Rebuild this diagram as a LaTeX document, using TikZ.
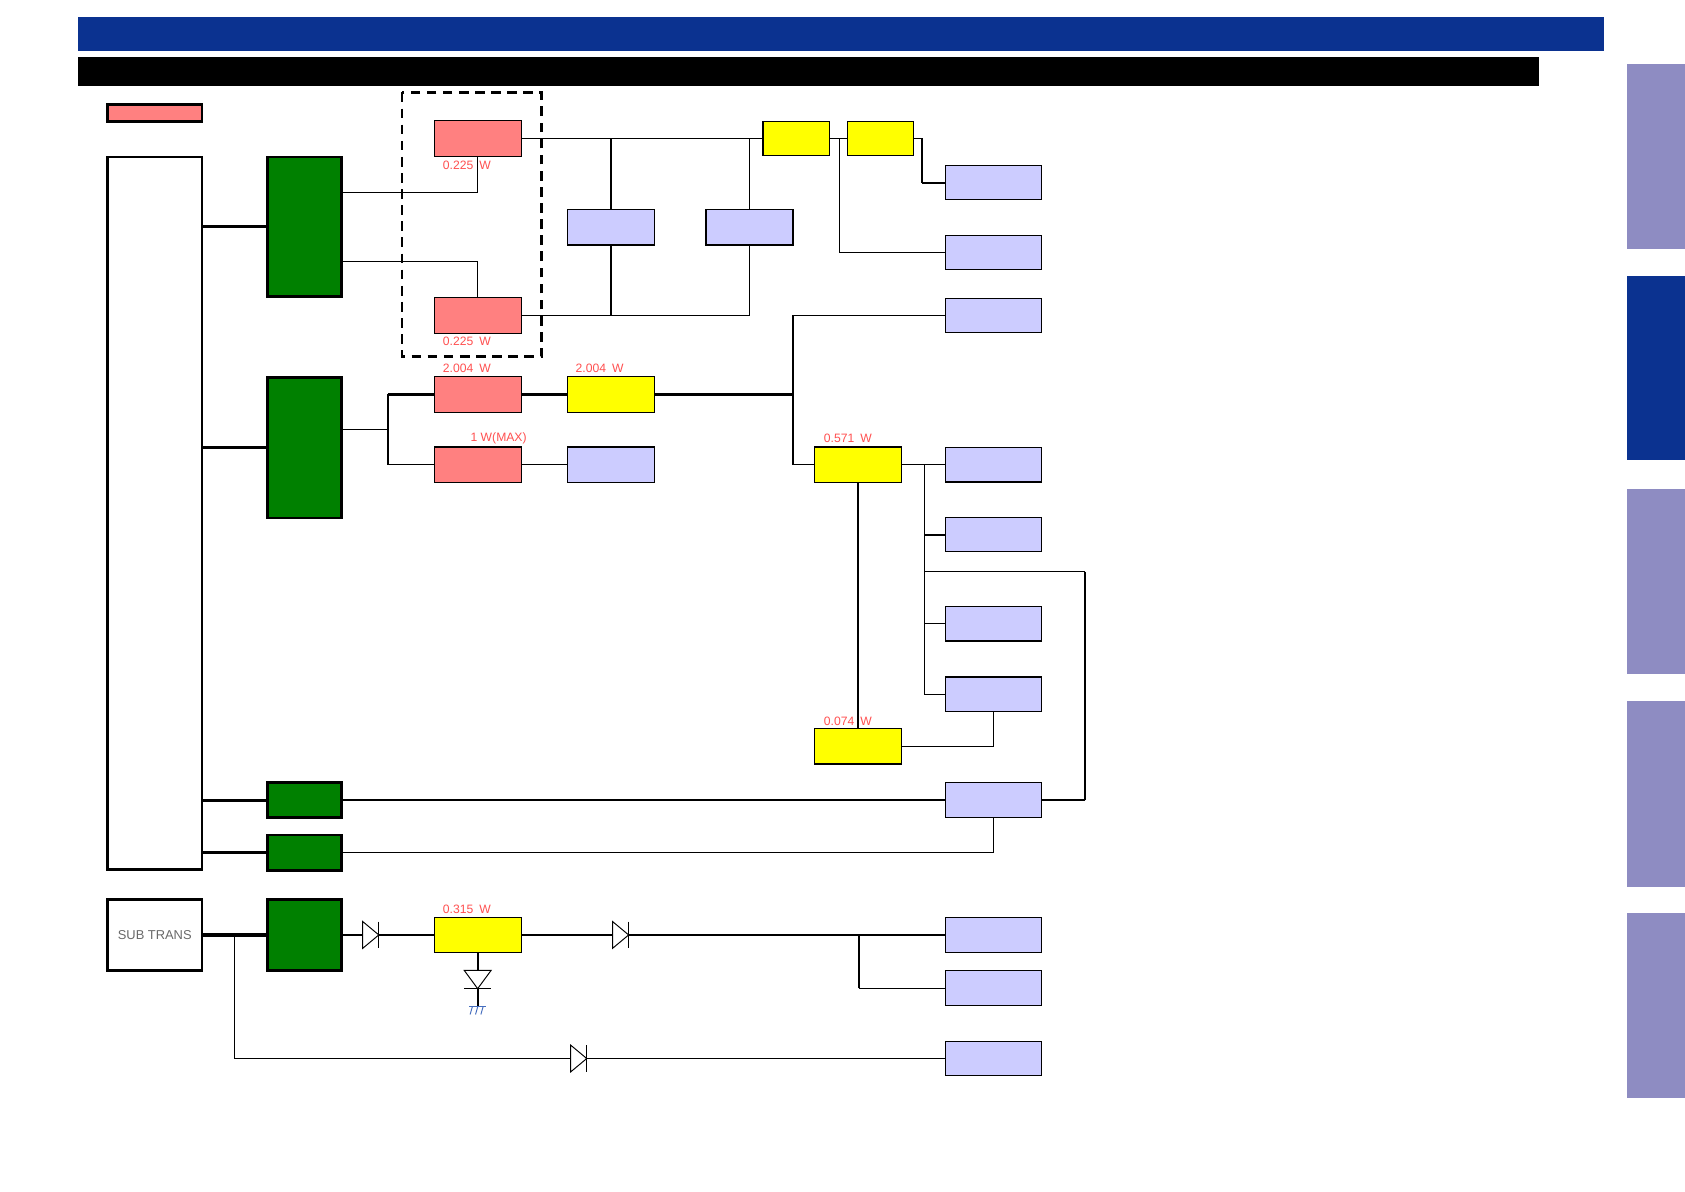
\documentclass[tikz,border=0pt]{standalone}
\usepackage{fontspec}
\setmainfont{Liberation Sans}
\definecolor{hdrblue}{RGB}{11,50,144}
\definecolor{tabl}{RGB}{142,140,194}
\definecolor{pinkf}{RGB}{255,128,128}
\definecolor{lavf}{RGB}{204,204,255}
\definecolor{grnf}{RGB}{0,128,0}
\definecolor{yelf}{RGB}{255,255,0}
\definecolor{lblred}{RGB}{255,80,80}
\definecolor{gndblue}{RGB}{70,110,190}
\definecolor{txtgray}{RGB}{105,105,105}
\newcommand{\wsp}{\hspace{0.5em}}
\tikzset{
  box/.style={draw=black, line width=1.1pt, inner sep=0pt, minimum width=81pt, minimum height=33pt},
  pk/.style={box, fill=pinkf},
  yl/.style={box, fill=yelf},
  lv/.style={box, fill=lavf},
  lvr/.style={lv, minimum width=89pt, minimum height=32pt},
  gr/.style={draw=black, line width=2.5pt, fill=grnf, inner sep=0pt, minimum width=69pt},
  wire/.style={line width=1.1pt},
  bus/.style={line width=2.8pt},
  lbl/.style={text=lblred, font=\fontsize{11.3}{13}\selectfont, inner sep=0pt},
  diodeR/.pic={
    \draw[line width=0.9pt, fill=white] (-7.5,-12.5) -- (7.5,0) -- (-7.5,12.5) -- cycle;
    \draw[line width=0.9pt] (7.5,-12.5) -- (7.5,12.5);
  },
  diodeD/.pic={
    \draw[line width=0.9pt, fill=white] (-12.5,-8.5) -- (12.5,-8.5) -- (0,8.5) -- cycle;
    \draw[line width=0.9pt] (-12.5,8.5) -- (12.5,8.5);
  },
  gndsym/.pic={
    \draw[gndblue, line width=0.9pt] (-8,0) -- (8,0);
    \draw[gndblue, line width=0.9pt] (-5,0) -- (-7,7) (0,0) -- (-2,7) (5,0) -- (3,7);
  }
}
\begin{document}
\begin{tikzpicture}[x=1pt, y=-1pt]
\useasboundingbox (0,0) rectangle (1568,1109);
\fill[white] (0,0) rectangle (1568,1109);

% header bars
\fill[hdrblue] (73,16) rectangle (1493,47);
\fill[black] (73,53) rectangle (1432,80);

% side tabs
\fill[tabl] (1514,60) rectangle (1568,232);
\fill[hdrblue] (1514,257) rectangle (1568,428);
\fill[tabl] (1514,455) rectangle (1568,627);
\fill[tabl] (1514,652) rectangle (1568,825);
\fill[tabl] (1514,850) rectangle (1568,1022);

% legend
\node[draw=black, line width=2.5pt, fill=pinkf, inner sep=0pt, minimum width=88pt, minimum height=16pt] (leg) at (144,105) {};

% main transformer box and sub trans
\node[draw=black, line width=2.2pt, fill=white, inner sep=0pt, minimum width=88pt, minimum height=663pt] (W) at (144,477.5) {};
\node[draw=black, line width=2.5pt, fill=white, inner sep=0pt, minimum width=88pt, minimum height=66pt, text=txtgray, font=\fontsize{12}{14}\selectfont] (ST) at (144,870) {SUB TRANS};

% green blocks
\node[gr, minimum height=130pt] (G1) at (283.5,211) {};
\node[gr, minimum height=131pt] (G2) at (283.5,416.5) {};
\node[gr, minimum height=33pt] (G3) at (283.5,744.5) {};
\node[gr, minimum height=33pt] (G4) at (283.5,793.5) {};
\node[gr, minimum height=66pt] (G5) at (283.5,870) {};

% dashed group
\draw[line width=2.5pt, dash pattern=on 9pt off 6pt] (374,86) rectangle (504,332);

% pink blocks
\node[pk] (P1) at (444.5,129) {};
\node[pk] (P2) at (444.5,293.5) {};
\node[pk] (P3) at (444.5,367) {};
\node[pk] (P4) at (444.5,432.5) {};

% yellow blocks
\node[yl, minimum width=62pt, minimum height=32pt] (Y1) at (741,129) {};
\node[yl, minimum width=61pt, minimum height=32pt] (Y2) at (819.5,129) {};
\node[yl] (Y3) at (568.5,367) {};
\node[yl] (Y4) at (798.5,432.5) {};
\node[yl] (Y5) at (798.5,694.5) {};
\node[yl] (Y6) at (444.5,870) {};

% lavender blocks
\node[lv] (lA) at (568.5,211.5) {};
\node[lv] (lB) at (697.5,211.5) {};
\node[lv] (lF) at (568.5,432.5) {};
\node[lvr] (lC) at (924.5,170) {};
\node[lvr] (lD) at (924.5,235) {};
\node[lvr] (lE) at (924.5,293.5) {};
\node[lvr] (lG) at (924.5,432.5) {};
\node[lvr] (lH) at (924.5,497.5) {};
\node[lvr] (lI) at (924.5,580.5) {};
\node[lvr] (lJ) at (924.5,646) {};
\node[lvr, minimum height=33pt] (lK) at (924.5,744.5) {};
\node[lvr] (lL) at (924.5,870) {};
\node[lvr, minimum height=33pt] (lM) at (924.5,919.5) {};
\node[lvr] (lN) at (924.5,985) {};

% labels
\node[lbl] (t1) at (434.5,154) {0.225\wsp W};
\node[lbl] (t2) at (434.5,318) {0.225\wsp W};
\node[lbl] (t3) at (434.5,343) {2.004\wsp W};
\node[lbl] (t4) at (464,408) {1 W(MAX)};
\node[lbl] (t5) at (558,343) {2.004\wsp W};
\node[lbl] (t6) at (789,408) {0.571\wsp W};
\node[lbl] (t7) at (789,671) {0.074\wsp W};
\node[lbl] (t8) at (434.5,846) {0.315\wsp W};

% main box to green blocks
\draw[bus] (W.east |- G1.west) -- (G1.west);
\draw[bus] (W.east |- G2.west) -- (G2.west);
\draw[bus] (W.east |- G3.west) -- (G3.west);
\draw[bus] (W.east |- G4.west) -- (G4.west);
\draw[line width=3.6pt] (ST.east) -- (G5.west);

% G1 to pink 1/2
\draw[wire] (G1.east |- 0,179) -| (P1.south);
\draw[wire] (G1.east |- 0,243) -| (P2.north);

% top rail
\draw[wire] (P1.east) -- (Y1.west);
\draw[wire] (lA.north) -- (lA.north |- P1.east);
\draw[wire] (lB.north) -- (lB.north |- P1.east);
\draw[wire] (P2.east) -| (lB.south);
\draw[wire] (lA.south) -- (lA.south |- P2.east);
\draw[wire] (Y1.east) -- (Y2.west);
\coordinate (j1) at (781,129);
\draw[wire] (j1) |- (lD.west);
\coordinate (j2) at (858,129);
\draw[wire] (Y2.east) -- (j2) -- (j2 |- lC.west);
\draw[line width=2pt] (j2 |- lC.west) -- (lC.west);

% middle rail
\coordinate (j3) at (738,293.5);
\draw[wire] (lE.west) -- (j3) |- (Y4.west);
\draw[bus] (Y3.east) -- (j3 |- Y3.east);
\coordinate (j4) at (361,400);
\draw[wire] (G2.east |- j4) -- (j4);
\draw[wire] (j4 |- P3.west) -- (j4 |- P4.west);
\draw[bus] (j4 |- P3.west) -- (P3.west);
\draw[wire] (j4 |- P4.west) -- (P4.west);
\draw[bus] (P3.east) -- (Y3.west);
\draw[wire] (P4.east) -- (lF.west);

% 0.571 W branch
\draw[wire] (Y4.east) -- (lG.west);
\coordinate (j5) at (860,432.5);
\draw[wire] (j5) -- (j5 |- lJ.west);
\draw[line width=2pt] (j5 |- lH.west) -- (lH.west);
\draw[wire] (j5 |- lI.west) -- (lI.west);
\draw[wire] (j5 |- lJ.west) -- (lJ.west);
\coordinate (j6) at (1010,532);
\draw[wire] (j5 |- j6) -- (j6);
\draw[line width=1.8pt] (j6) -- (j6 |- lK.east);
\draw[wire] (j6 |- lK.east) -- (lK.east);
\draw[line width=2.2pt] (Y4.south) -- (Y5.north);
\draw[wire] (Y5.east) -| (lJ.south);
\draw[wire] (G3.east) -- (lK.west);
\draw[wire] (G4.east) -| (lK.south);

% bottom section
\coordinate (d1) at (345,870);
\coordinate (d2) at (577.5,870);
\coordinate (j8) at (799,870);
\draw[wire] (G5.east) -- (d1) -- (Y6.west);
\draw[wire] (Y6.east) -- (d2) -- (lL.west);
\draw[line width=2pt] (j8) -- (j8 |- lM.west);
\draw[wire] (j8 |- lM.west) -- (lM.west);
\coordinate (z1) at (444.5,911.5);
\coordinate (gnd) at (444.5,937);
\draw[line width=2pt] (Y6.south) -- (gnd);
\coordinate (j7) at (218,870);
\coordinate (d3) at (538.5,985);
\draw[wire] (j7) |- (d3) -- (lN.west);

\pic at (d1) {diodeR};
\pic at (d2) {diodeR};
\pic at (d3) {diodeR};
\pic at (z1) {diodeD};
\pic at (gnd) {gndsym};
\end{tikzpicture}
\end{document}
